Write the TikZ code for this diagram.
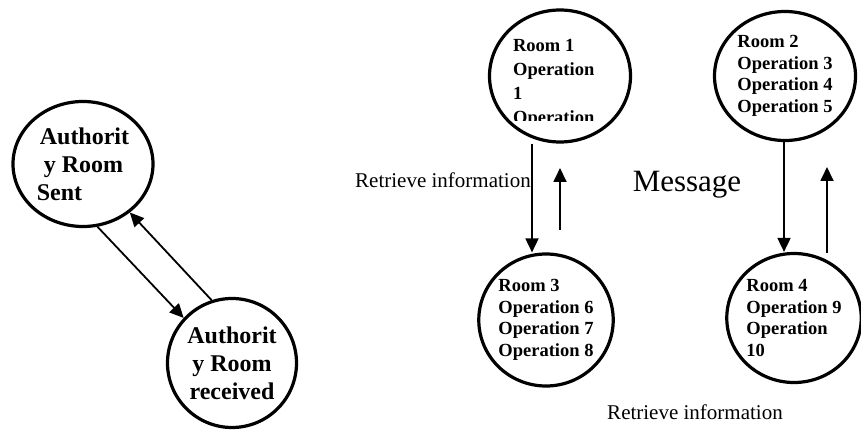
\documentclass[tikz,border=0pt]{standalone}
\usepackage{fontspec}
\setmainfont{Liberation Serif}
\usetikzlibrary{positioning,arrows.meta,shapes.geometric}

\begin{document}
\begin{tikzpicture}[
    x=1pt, y=-1pt,
    room/.style={draw, ellipse, line width=3.2pt, inner sep=0pt, align=left, font=\bfseries\fontsize{18.5}{21.5}\selectfont},
    auth/.style={draw, ellipse, line width=3.2pt, inner sep=0pt, font=\bfseries\fontsize{24}{28}\selectfont},
    arrow/.style={-{Triangle[length=14pt,width=13pt]}, line width=1.8pt},
    lbl/.style={inner sep=0pt, font=\fontsize{21}{25}\selectfont},
]
\useasboundingbox (0,0) rectangle (861,430);

% authority rooms
\node[auth, align=left, minimum width=140pt, minimum height=125pt] (as) at (83,164) {\hspace{3pt}Authorit\\\hspace{7pt}y Room\\Sent};
\node[auth, align=center, minimum width=129pt, minimum height=129pt] (ar) at (232,363) {Authorit\\y Room\\received};

\draw[arrow] (as.-77) -- (ar.137);
\draw[arrow] (ar.108) -- (as.-46);

% rooms
\node[room, minimum width=141pt, minimum height=132pt] (r1) at (560,76) {};
\begin{scope}
\clip (480,28) rectangle (640,121);
\node[room, draw=none, anchor=north west, font=\bfseries\fontsize{18.5}{24}\selectfont] (r1txt) at (512,38) {Room 1\\Operation\\1\\Operation};
\end{scope}
\node[room, minimum width=141pt, minimum height=129pt] (r2) at (785,76) {Room 2\\Operation 3\\Operation 4\\Operation 5};
\node[room, minimum width=133pt, minimum height=132pt] (r3) at (546,320) {Room 3\\Operation 6\\Operation 7\\Operation 8};
\node[room, minimum width=129pt, minimum height=129pt] (r4) at (794,318) {Room 4\\Operation 9\\Operation\\10};

\coordinate (up1s) at (560,230);
\coordinate (up1e) at (560,168);
\coordinate (up2s) at (827,253);
\coordinate (up2e) at (827,167);

\draw[arrow] ([xshift=-28pt]r1.south) -- ([xshift=-14pt]r3.north);
\draw[arrow] (up1s) -- (up1e);
\draw[arrow] ([xshift=-1pt]r2.south) -- ([xshift=-10pt]r4.north);
\draw[arrow] (up2s) -- (up2e);

% labels
\node[lbl, anchor=west] (ret1) at (355,180) {Retrieve information};
\node[lbl, font=\fontsize{31}{36}\selectfont] (msg) at (687,185) {Message};
\node[lbl] (ret2) at (695,412) {Retrieve information};

\end{tikzpicture}
\end{document}
